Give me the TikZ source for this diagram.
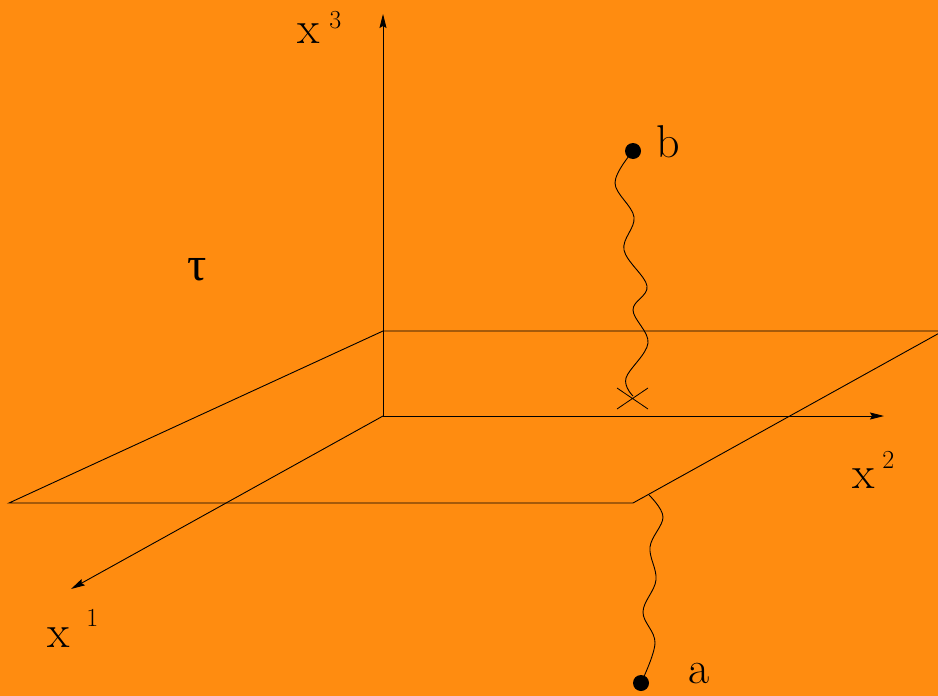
\documentclass[tikz,border=0pt]{standalone}
\usepackage{fontspec}
\newfontfamily\grkfont{Liberation Serif}
\usetikzlibrary{arrows.meta}
\definecolor{bgorange}{RGB}{255,140,16}
\begin{document}
\begin{tikzpicture}[x=1pt,y=-1pt,line width=0.9pt,
  lbl/.style={font=\fontsize{46}{46}\selectfont\addfontfeatures{FakeBold=1},inner sep=0pt,anchor=base west},
  supx/.style={font=\fontsize{26}{26}\selectfont\addfontfeatures{FakeBold=0.8},inner sep=0pt,anchor=base west},
  axis/.style={-{Stealth[length=14pt,width=7pt,inset=2pt]}},
  dotn/.style={circle,fill=black,inner sep=0pt,minimum size=16pt},
  wig/.style={line width=0.9pt}]
\fill[bgorange] (0,0) rectangle (938,696);
\useasboundingbox (0,0) rectangle (938,696);
\clip (0,0) rectangle (938,696);
% plane
\coordinate (P1) at (383,331);
\coordinate (P2) at (943,331);
\coordinate (P3) at (633,503);
\coordinate (P4) at (9,503);
\draw (P1) -- (P2) -- (P3) -- (P4) -- cycle;
% axes
\coordinate (O) at (383,416);
\coordinate (X3) at (383,14);
\coordinate (X2) at (884,416);
\coordinate (X1) at (71,589);
\draw[axis] (O) -- (X3);
\draw[axis] (O) -- (X2);
\draw[axis] (O) -- (X1);
% labels
\node[lbl] (lx3) at (297,43) {x};
\node[supx] (l3) at (329,28) {3};
\node[lbl] (lx2) at (852,488) {x};
\node[supx] (l2) at (882,468) {2};
\node[lbl] (lx1) at (47,647) {x};
\node[supx] (l1) at (86,626) {1};
\node[lbl] (lb) at (656,157) {b};
\node[lbl] (la) at (688,683) {a};
\node[lbl,font=\fontsize{48}{48}\selectfont\grkfont] (ltau) at (187,280) {τ};
% dots
\node[dotn] (b) at (633,151) {};
\node[dotn] (a) at (641,683) {};
% cross
\coordinate (C1) at (617,388);
\coordinate (C2) at (648,409);
\coordinate (C3) at (648,388);
\coordinate (C4) at (617,409);
\draw[line width=0.8pt] (C1) -- (C2) (C3) -- (C4);
% wiggly lines
\coordinate (E) at (649,495);
\draw[wig] plot[smooth,tension=0.6] coordinates {(b) (615,183) (634,217) (624,250) (647,286) (633,310) (648,343) (626,378) (633,396)};
\draw[wig] plot[smooth,tension=0.6] coordinates {(E) (663,517) (650,547) (656,580) (643,612) (655,643) (a)};
\end{tikzpicture}
\end{document}
